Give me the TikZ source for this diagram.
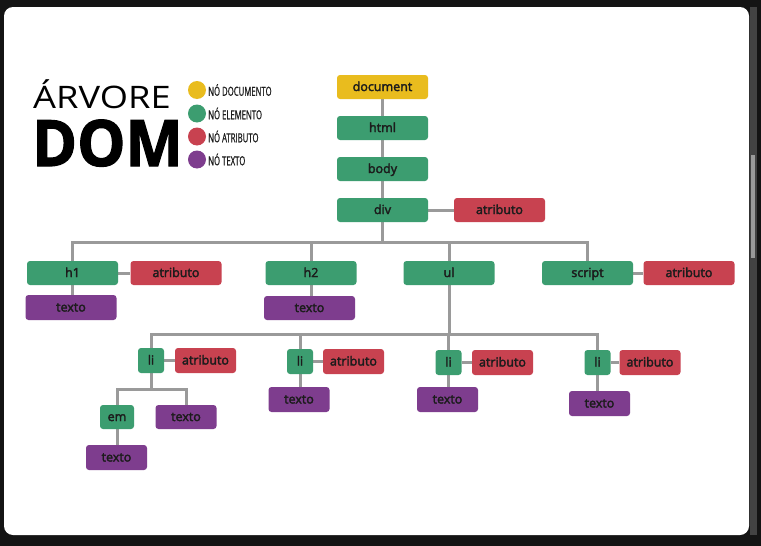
\documentclass[tikz,border=0pt]{standalone}
\usepackage{fontspec}
\setmainfont{Open Sans}
\newfontfamily\condfont[FakeStretch=0.62, FakeBold=0.8]{Open Sans}
\newfontfamily\semifont[FakeBold=2.6]{Open Sans}
\newfontfamily\heavyfont[BoldFeatures={FakeBold=1.8}]{Open Sans}
\usetikzlibrary{backgrounds}
\definecolor{cdoc}{HTML}{E9BC1E}
\definecolor{cel}{HTML}{3C9D70}
\definecolor{cattr}{HTML}{C84250}
\definecolor{ctxt}{HTML}{7E3D8E}
\definecolor{cline}{HTML}{9A9A9A}
\definecolor{cframe}{HTML}{141414}
\definecolor{ctxtc}{HTML}{1C1C1C}
\tikzset{
  box/.style={rectangle, rounded corners=3pt, inner sep=0pt, minimum height=24pt,
    font=\semifont\fontsize{12.5}{13}\selectfont, text=ctxtc, text height=9pt, text depth=1pt},
  wide/.style={box, minimum width=91pt},
  mid/.style={box, minimum width=61pt},
  small/.style={box, minimum width=26pt},
  docbox/.style={fill=cdoc},
  elbox/.style={fill=cel},
  atbox/.style={fill=cattr},
  txbox/.style={fill=ctxt},
  conn/.style={draw=cline, line width=3pt},
  legdot/.style={circle, inner sep=0pt, minimum size=18pt},
  legtext/.style={anchor=west, inner sep=0pt, font=\condfont\fontsize{12.5}{12}\selectfont, text=ctxtc}
}
\begin{document}
\begin{tikzpicture}[x=1pt,y=-1pt]
\useasboundingbox (0,0) rectangle (761,546);
% nodes level 0-3
\node[wide,docbox] (document) at (382.5,87) {document};
\node[wide,elbox] (html) at (382.5,128) {html};
\node[wide,elbox] (body) at (382.5,169) {body};
\node[wide,elbox] (div) at (382.5,210) {div};
\node[wide,atbox] (divat) at (499.5,210) {atributo};
% level 4
\node[wide,elbox] (h1) at (72.5,273) {h1};
\node[wide,atbox] (h1at) at (176,273) {atributo};
\node[wide,txbox,minimum height=25pt] (h1tx) at (71,307.5) {texto};
\node[wide,elbox] (h2) at (311,273) {h2};
\node[wide,txbox] (h2tx) at (309.5,308) {texto};
\node[wide,elbox] (ul) at (449,273) {ul};
\node[wide,elbox] (script) at (587.5,273) {script};
\node[wide,atbox] (scriptat) at (689,273) {atributo};
% li level
\node[small,elbox,minimum height=25pt] (li1) at (151,360.5) {li};
\node[mid,atbox,minimum height=25pt] (li1at) at (205.5,360.5) {atributo};
\node[small,elbox,minimum height=25pt] (li2) at (300,361.5) {li};
\node[mid,atbox,minimum height=25pt] (li2at) at (353.5,361.5) {atributo};
\node[mid,txbox,minimum height=25pt] (li2tx) at (299,399.5) {texto};
\node[small,elbox,minimum height=25pt] (li3) at (448.5,362.5) {li};
\node[mid,atbox,minimum height=25pt] (li3at) at (502.5,362.5) {atributo};
\node[mid,txbox,minimum height=25pt] (li3tx) at (447.5,399.5) {texto};
\node[small,elbox,minimum height=25pt] (li4) at (597.5,362.5) {li};
\node[mid,atbox,minimum height=25pt] (li4at) at (650,362.5) {atributo};
\node[mid,txbox,minimum height=25pt] (li4tx) at (599.5,403.5) {texto};
% em level
\node[box,elbox,minimum width=34pt] (em) at (117,417) {em};
\node[mid,txbox] (li1tx) at (186,417) {texto};
\node[mid,txbox,minimum height=25pt] (emtx) at (116.5,457.5) {texto};
% title and legend
\node[anchor=base west, inner sep=0pt, font=\fontsize{31}{31}\selectfont, xscale=1.17, transform shape] (title1) at (33,108) {ÁRVORE};
\node[anchor=base west, inner sep=0pt, font=\heavyfont\fontsize{64}{64}\selectfont\bfseries, xscale=0.95, transform shape] (title2) at (32,166) {DOM};
\node[legdot,fill=cdoc] (ld1) at (197,90) {};
\node[legdot,fill=cel] (ld2) at (197,113.5) {};
\node[legdot,fill=cattr] (ld3) at (197,136.5) {};
\node[legdot,fill=ctxt] (ld4) at (197,159.5) {};
\node[legtext] (lt1) at (208,90) {NÓ DOCUMENTO};
\node[legtext] (lt2) at (208,113.5) {NÓ ELEMENTO};
\node[legtext] (lt3) at (208,136.5) {NÓ ATRIBUTO};
\node[legtext] (lt4) at (208,159.5) {NÓ TEXTO};
\begin{pgfonlayer}{background}
  \fill[cframe] (0,0) rectangle (761,546);
  \fill[white, rounded corners=9pt] (4,7) rectangle (749,535);
  \fill[cframe!80!white] (750,7) rectangle (757,535);
  \fill[cline] (751,155) rectangle (755,258);
  \coordinate (b1) at (382.5,242);
  \coordinate (b2) at (449,334);
  \coordinate (b3) at (151,389);
  \draw[conn] (document) -- (html);
  \draw[conn] (html) -- (body);
  \draw[conn] (body) -- (div);
  \draw[conn] (div) -- (divat);
  \draw[conn] (div.south) -- (b1);
  \draw[conn] (h1.north) |- (b1) -| (script.north);
  \draw[conn] (h2.north) -- (h2.north |- b1);
  \draw[conn] (ul.north) -- (ul.north |- b1);
  \draw[conn] (h1) -- (h1at);
  \draw[conn] (h1.south) -- (h1.south |- h1tx.north);
  \draw[conn] (h2.south) -- (h2.south |- h2tx.north);
  \draw[conn] (script) -- (scriptat);
  \draw[conn] (ul.south) -- (b2);
  \draw[conn] (li1.north) |- (b2) -| (li4.north);
  \draw[conn] (li2.north) -- (li2.north |- b2);
  \draw[conn] (li3.north) -- (li3.north |- b2);
  \draw[conn] (li1) -- (li1at);
  \draw[conn] (li2) -- (li2at);
  \draw[conn] (li3) -- (li3at);
  \draw[conn] (li4) -- (li4at);
  \draw[conn] (li2.south) -- (li2.south |- li2tx.north);
  \draw[conn] (li3.south) -- (li3.south |- li3tx.north);
  \draw[conn] (li4.south) -- (li4.south |- li4tx.north);
  \draw[conn] (li1.south) -- (b3);
  \draw[conn] (em.north) |- (b3) -| (li1tx.north);
  \draw[conn] (em.south) -- (em.south |- emtx.north);
\end{pgfonlayer}
\end{tikzpicture}
\end{document}
